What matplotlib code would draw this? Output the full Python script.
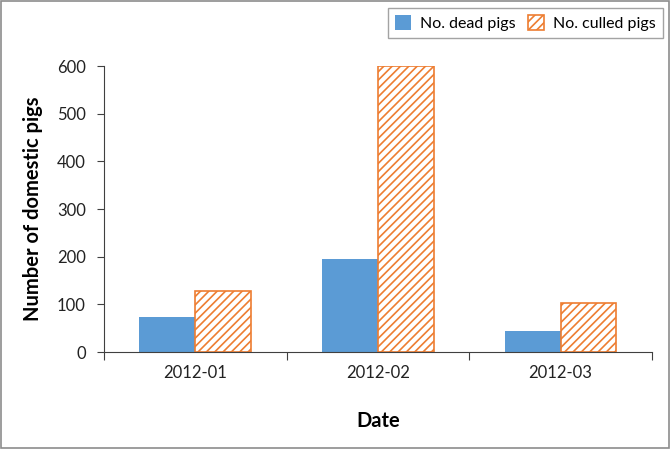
import matplotlib.pyplot as plt
import numpy as np
from matplotlib.patches import Rectangle

# Data
dates = ["2012-01", "2012-02", "2012-03"]
dead_pigs = [74, 196, 44]
culled_pigs = [128, 600, 103]

plt.rcParams['font.family'] = ['Lato', 'DejaVu Sans']
plt.rcParams['hatch.linewidth'] = 1.2
plt.rcParams['hatch.color'] = '#ED7D31'

fig = plt.figure(figsize=(6.7, 4.49), dpi=100)
ax = fig.add_axes([0.155, 0.216, 0.818, 0.637])

# outer border
fig.patches.append(Rectangle((0.002, 0.002), 0.996, 0.996, transform=fig.transFigure,
                             fill=False, edgecolor='#8c8c8c', linewidth=1.2))

x = np.arange(len(dates))
w = 0.305
ax.bar(x - w / 2, dead_pigs, w, color='#5B9BD5', label='No. dead pigs')
ax.bar(x + w / 2, culled_pigs, w, facecolor='white', edgecolor='#ED7D31',
       hatch='////', linewidth=1.2, label='No. culled pigs')

ax.set_xlim(-0.5, 2.5)
ax.set_ylim(0, 600)
ax.set_yticks(range(0, 601, 100))

ax.set_xticks([-0.5, 0.5, 1.5, 2.5])
ax.set_xticklabels([])
ax.set_xticks(x, minor=True)
ax.set_xticklabels(dates, minor=True)
ax.tick_params(axis='x', which='major', length=6, color='#404040', direction='out')
ax.tick_params(axis='x', which='minor', length=0, pad=9)
ax.tick_params(axis='both', which='both', labelsize=12, labelcolor='#222222')
ax.tick_params(axis='y', length=5, color='#404040', pad=8)

for s in ['top', 'right']:
    ax.spines[s].set_visible(False)
ax.spines['left'].set_color('#404040')
ax.spines['bottom'].set_color('#404040')

ax.set_ylabel("Number of domestic pigs", fontsize=14.5, fontweight='bold', labelpad=10)
ax.set_xlabel("Date", fontsize=14.5, fontweight='bold', labelpad=22)

leg = fig.legend(loc='upper right', bbox_to_anchor=(0.9896, 0.982), borderaxespad=0,
                 ncol=2, fontsize=11.5,
                 frameon=True, fancybox=False, edgecolor='#8c8c8c',
                 handlelength=1.0, handleheight=1.0, columnspacing=0.8, handletextpad=0.55,
                 borderpad=0.45)
leg.get_frame().set_linewidth(1.0)

fig.savefig("out.png", dpi=100)
